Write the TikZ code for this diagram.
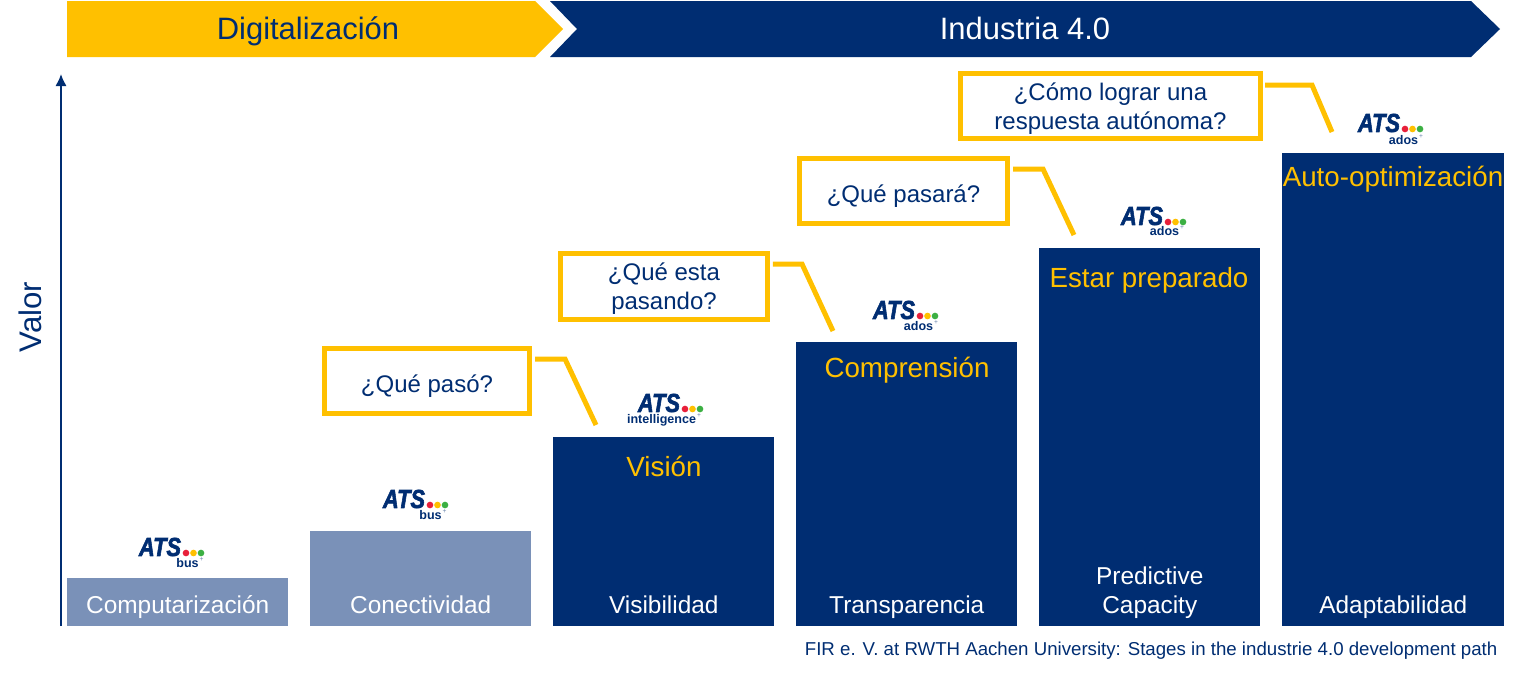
\documentclass[tikz,border=0pt]{standalone}
\usepackage{fontspec}
\setmainfont{Liberation Sans}
\newfontfamily\atsfont[BoldItalicFeatures={FakeBold=2.5}]{Liberation Sans}
\usetikzlibrary{positioning,arrows.meta}
\definecolor{navy}{HTML}{002D72}
\definecolor{amber}{HTML}{FFC000}
\definecolor{paleblue}{HTML}{7A91B8}
\definecolor{dotred}{HTML}{E8203A}
\definecolor{dotgreen}{HTML}{3CB043}
\tikzset{
  stage/.style={fill=navy,inner sep=0pt,minimum width=165.75pt,anchor=south west},
  palestage/.style={stage,fill=paleblue},
  bottomlabel/.style={text=white,font=\fontsize{18.3}{21.75}\selectfont,align=center,anchor=south,inner sep=0pt,text depth=0pt},
  toplabel/.style={text=amber,font=\fontsize{20.8}{24}\selectfont,anchor=base},
  question/.style={draw=amber,line width=3.75pt,text=navy,inner sep=0pt,align=center,text height=20.5pt,text depth=4pt,font=\fontsize{18}{21.75}\selectfont},
  twolines/.style={text height=38.75pt},
  leader/.style={draw=amber,line width=3.75pt},
  banner/.style={font=\fontsize{23.2}{26}\selectfont,anchor=base},
  logomark/.style={text=navy,font=\atsfont\bfseries\itshape\fontsize{19.5}{19.5}\selectfont,inner sep=0pt,xscale=.84,transform shape},
  logosub/.style={text=navy,font=\bfseries\fontsize{9.4}{10}\selectfont,inner sep=0pt,anchor=base},
  logodot/.style={circle,inner sep=0pt,minimum size=5pt},
  logo/.pic={
    \node[logomark] (-mark) at (0,0) {ATS};
    \node[logodot,fill=dotred] (-d1) at (26,6) {};
    \node[logodot,fill=amber] (-d2) at (33.5,6) {};
    \node[logodot,fill=dotgreen] (-d3) at (41,6) {};
  }
}
\newcommand{\plusmark}{\kern.8pt\smash{\raisebox{4pt}{\mdseries\fontsize{5}{5}\selectfont\textcolor{navy!60}{+}}}}
\begin{document}
\begin{tikzpicture}[x=0.75pt,y=-0.75pt]
  \useasboundingbox (0,0) rectangle (1527,672);
  \fill[amber] (67,1) -- (535,1) -- (563,29) -- (535,57) -- (67,57) -- cycle;
  \fill[navy] (550,1) -- (1471,1) -- (1500,29) -- (1471,57) -- (550,57) -- (577,29) -- cycle;
  \node[banner,text=navy] (digital) at (308,39) {Digitalización};
  \node[banner,text=white] (industry) at (1025,39) {Industria 4.0};

  \coordinate (origin) at (61,626);
  \coordinate (top) at (61,74);
  \draw[navy,line width=1.5pt,-{Latex[length=9pt,width=8.5pt]}] (origin) -- (top);
  \node[rotate=90,text=navy,font=\fontsize{23.4}{26}\selectfont] (value) at (30,317) {Valor};

  \node[palestage,minimum height=36pt] (s1) at (67,626) {};
  \node[palestage,minimum height=71.25pt] (s2) at (310,626) {};
  \node[stage,minimum height=141.75pt] (s3) at (553,626) {};
  \node[stage,minimum height=213pt] (s4) at (796,626) {};
  \node[stage,minimum height=283.5pt] (s5) at (1039,626) {};
  \node[stage,minimum height=354.75pt,minimum width=166.5pt] (s6) at (1282,626) {};

  \node[bottomlabel,above=9pt of s1.south] (l1) {Computarización};
  \node[bottomlabel,above=9pt of s2.south] (l2) {Conectividad};
  \node[bottomlabel,above=9pt of s3.south] (l3) {Visibilidad};
  \node[bottomlabel,above=9pt of s4.south] (l4) {Transparencia};
  \node[bottomlabel,above=9pt of s5.south] (l5) {Predictive\\Capacity};
  \node[bottomlabel,above=9pt of s6.south] (l6) {Adaptabilidad};

  \node[toplabel] (t3) at (664,476) {Visión};
  \node[toplabel] (t4) at (907,377) {Comprensión};
  \node[toplabel] (t5) at (1149,287) {Estar preparado};
  \node[toplabel] (t6) at (1393,186) {Auto-optimización};

  \node[question,minimum width=154pt,minimum height=49pt] (q1) at (427,381) {¿Qué pasó?};
  \node[question,twolines,minimum width=155pt,minimum height=50pt] (q2) at (664,286.5) {¿Qué esta\\pasando?};
  \node[question,minimum width=156pt,minimum height=49pt] (q3) at (903.5,191) {¿Qué pasará?};
  \node[question,twolines,minimum width=225pt,minimum height=49pt] (q4) at (1110.5,106) {¿Cómo lograr una\\respuesta autónoma?};

  \coordinate (k1) at (565,359);
  \coordinate (k2) at (802,264);
  \coordinate (k3) at (1043,169);
  \coordinate (k4) at (1312,85);
  \coordinate (e1) at (596,425);
  \coordinate (e2) at (833,331);
  \coordinate (e3) at (1074,235);
  \coordinate (e4) at (1332,132);
  \draw[leader] ([xshift=2.25pt]q1.east |- k1) -- (k1) -- (e1);
  \draw[leader] ([xshift=2.25pt]q2.east |- k2) -- (k2) -- (e2);
  \draw[leader] ([xshift=2.25pt]q3.east |- k3) -- (k3) -- (e3);
  \draw[leader] ([xshift=1.5pt]q4.east |- k4) -- (k4) -- (e4);

  \pic (a1) at (160,547) {logo};
  \pic (a2) at (404,499) {logo};
  \pic (a3) at (659,403) {logo};
  \pic (a4) at (894,310) {logo};
  \pic (a5) at (1142,216) {logo};
  \pic (a6) at (1379,123) {logo};
  \node[logosub] (b1) at (190,567) {bus\plusmark};
  \node[logosub] (b2) at (433,519) {bus\plusmark};
  \node[logosub] (b3) at (664,423) {intelligence\plusmark};
  \node[logosub] (b4) at (921,330) {ados\plusmark};
  \node[logosub] (b5) at (1167,235) {ados\plusmark};
  \node[logosub] (b6) at (1406,144) {ados\plusmark};

  \node[text=navy,font=\fontsize{14}{16}\selectfont,anchor=east] (source) at (1502,650.5) {FIR e. V. at RWTH Aachen University: Stages in the industrie 4.0 development path};
\end{tikzpicture}
\end{document}
